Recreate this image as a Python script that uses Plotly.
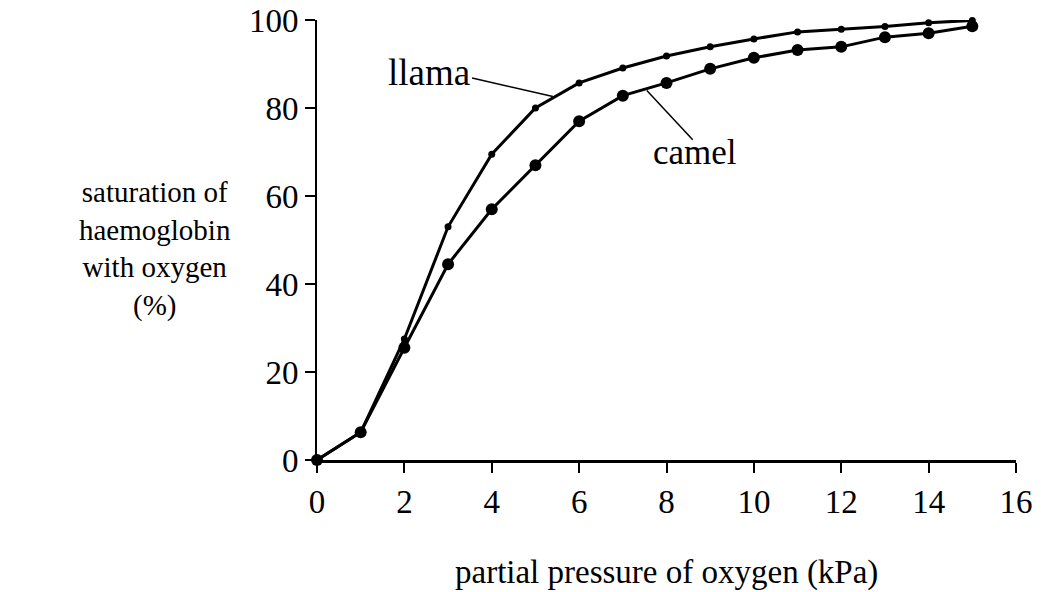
import plotly.graph_objects as go

pressure = [0, 1, 2, 3, 4, 5, 6, 7, 8, 9, 10, 11, 12, 13, 14, 15]
llama = [0, 6.3, 27.5, 53, 69.5, 80, 85.7, 89.1, 91.8, 93.9, 95.7, 97.3, 97.9, 98.5, 99.4, 99.9]
camel = [0, 6.3, 25.5, 44.5, 57, 67, 77, 82.8, 85.7, 88.9, 91.4, 93.2, 93.9, 96.1, 97, 98.6]

x_ticks = [0, 2, 4, 6, 8, 10, 12, 14, 16]
y_ticks = [0, 20, 40, 60, 80, 100]
y_title = "saturation of<br>haemoglobin<br>with oxygen<br>(%)"

FONT = "Liberation Serif, Times New Roman, serif"
FS = 33

fig = go.Figure()
fig.add_trace(go.Scatter(x=pressure, y=llama, mode="lines+markers", name="llama",
                         line=dict(color="black", width=3),
                         marker=dict(color="black", size=7), cliponaxis=False))
fig.add_trace(go.Scatter(x=pressure, y=camel, mode="lines+markers", name="camel",
                         line=dict(color="black", width=3),
                         marker=dict(color="black", size=12), cliponaxis=False))

# labels with leader lines
fig.add_annotation(x=3.55, y=88, text="llama", showarrow=False, xanchor="right",
                   yanchor="middle", font=dict(family=FONT, size=37, color="black"))
fig.add_shape(type="line", x0=3.55, y0=86.8, x1=5.4, y1=82.6,
              line=dict(color="black", width=1.5))
fig.add_annotation(x=7.65, y=69.8, text="camel", showarrow=False, xanchor="left",
                   yanchor="middle", font=dict(family=FONT, size=35, color="black"))
fig.add_shape(type="line", x0=8.6, y0=72.8, x1=7.55, y1=84.0,
              line=dict(color="black", width=1.5))

fig.add_annotation(xref="paper", yref="paper", x=0.5, y=-0.255,
                   text="partial pressure of oxygen (kPa)", showarrow=False,
                   xanchor="center", yanchor="middle",
                   font=dict(family=FONT, size=FS, color="black"))
fig.add_annotation(xref="paper", yref="paper", x=-0.232, y=0.48,
                   text=y_title, showarrow=False,
                   xanchor="center", yanchor="middle", align="center",
                   font=dict(family=FONT, size=29, color="black"))

fig.update_layout(
    width=1041, height=592,
    margin=dict(l=317, r=25, t=20, b=132, autoexpand=False),
    plot_bgcolor="white", paper_bgcolor="white",
    showlegend=False,
    font=dict(family=FONT, size=FS, color="black"),
)
fig.update_xaxes(range=[0, 16], tickvals=x_ticks, ticktext=[str(v) for v in x_ticks],
                 showgrid=False, zeroline=False, showline=True, linecolor="black",
                 linewidth=3, ticks="outside", ticklen=10, tickwidth=2, tickcolor="black",
                 ticklabeloverflow="allow", automargin=False,
                 tickfont=dict(family=FONT, size=FS, color="black"))
fig.update_yaxes(range=[0, 100], tickvals=y_ticks, ticktext=[str(v) for v in y_ticks],
                 showgrid=False, zeroline=False, showline=True, linecolor="black",
                 linewidth=2, ticks="outside", ticklen=10, tickwidth=2, tickcolor="black",
                 ticklabeloverflow="allow", automargin=False,
                 tickfont=dict(family=FONT, size=FS, color="black"))

fig.write_html("out.html", config={"displayModeBar": False},
               post_script="document.body.style.margin='0';document.body.style.overflow='hidden';")
